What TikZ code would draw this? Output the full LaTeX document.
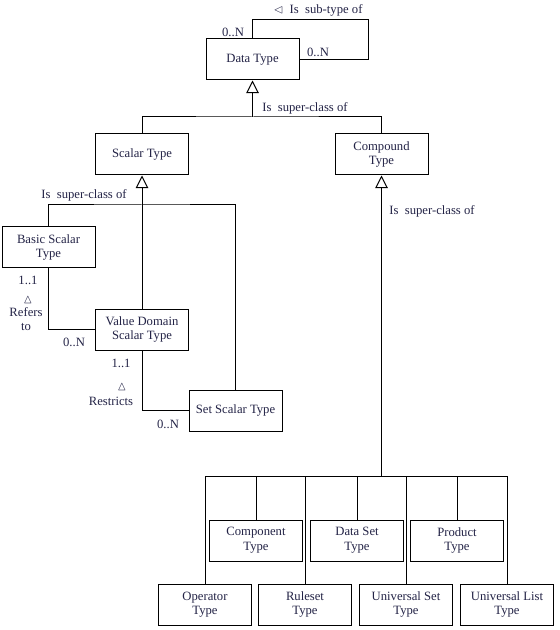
\documentclass[tikz,border=0pt]{standalone}
\usepackage{amssymb}
\usepackage{fontspec}
\setmainfont{Liberation Serif}
\usetikzlibrary{arrows.meta}

\definecolor{labelink}{RGB}{35,35,70}
\tikzset{every picture/.style={line width=0.75pt}}
\tikzset{
  typebox/.style={draw, fill=white, minimum width=69.75pt, minimum height=30.75pt, inner sep=1pt, align=center, font=\fontsize{9.5}{11}\selectfont, text=labelink},
  lbl/.style={font=\fontsize{9.5}{11}\selectfont, text=labelink, inner sep=0pt, align=center},
  isa/.style={-{Triangle[open, width=9.5pt, length=9.5pt]}}
}

\begin{document}
\begin{tikzpicture}[x=0.75pt,y=0.75pt,yscale=-1,xscale=1]
	\useasboundingbox (0,0) rectangle (559,630);
	
	%Shape: Rectangle [id:dataType]
	\node[typebox] (dt) at (252.5,59.5) {Data Type};
	%Shape: Rectangle [id:scalarType]
	\node[typebox] (st) at (142,154.5) {Scalar Type};
	%Shape: Rectangle [id:compoundType]
	\node[typebox] (ct) at (381.5,154.5) {Compound\\Type};
	%Shape: Rectangle [id:basicScalar]
	\node[typebox] (bsc) at (48.5,247.5) {Basic Scalar\\Type};
	%Shape: Rectangle [id:valueDomain]
	\node[typebox] (vd) at (142,329.5) {Value Domain\\Scalar Type};
	%Shape: Rectangle [id:setScalar]
	\node[typebox] (sst) at (235.5,410.5) {Set Scalar Type};
	%Shape: Rectangle [id:component]
	\node[typebox] (cmp) at (256,540.5) {Component\\Type};
	%Shape: Rectangle [id:dataSet]
	\node[typebox] (dst) at (357,540.5) {Data Set\\Type};
	%Shape: Rectangle [id:product]
	\node[typebox] (prd) at (457,540.5) {Product\\Type};
	%Shape: Rectangle [id:operator]
	\node[typebox] (opt) at (205,604.5) {Operator\\Type};
	%Shape: Rectangle [id:ruleset]
	\node[typebox] (rst) at (305,604.5) {Ruleset\\Type};
	%Shape: Rectangle [id:universalSet]
	\node[typebox] (ust) at (406,604.5) {Universal Set\\Type};
	%Shape: Rectangle [id:universalList]
	\node[typebox] (ult) at (507,604.5) {Universal List\\Type};
	
	\coordinate (loop) at (368,20);
	\coordinate (bus1) at (252.5,117);
	\coordinate (bus2) at (142,205);
	\coordinate (bus3) at (381.5,476);
	
	%Straight Lines [id:subtypeLoop]
	\draw (dt.north) |- (loop) |- (dt.east);
	
	%Straight Lines [id:dataTypeSuper]
	\draw[isa] (bus1) -- (dt.south);
	\draw (st.north) |- (bus1) -| (ct.north);
	
	%Straight Lines [id:scalarSuper]
	\draw[isa] (vd.north) -- (st.south);
	\draw (bsc.north) |- (bus2) -| (sst.north);
	
	%Straight Lines [id:refersTo]
	\draw (bsc.south) |- (vd.west);
	%Straight Lines [id:restricts]
	\draw (vd.south) |- (sst.west);
	
	%Straight Lines [id:compoundSuper]
	\draw[isa] (bus3) -- (ct.south);
	\foreach \n in {opt,cmp,rst,dst,ust,prd,ult}
		\draw (bus3) -| (\n.north);
	
	% Text Node
	\node[lbl] (subtype) at (318,10) {$\lhd$\ \ Is\ \ sub-type of};
	% Text Node
	\node[lbl] (mulA) at (233,32) {0..N};
	% Text Node
	\node[lbl] (mulB) at (318,52) {0..N};
	% Text Node
	\node[lbl] (superA) at (305,108) {Is\ \ super-class of};
	% Text Node
	\node[lbl] (superB) at (84,195) {Is\ \ super-class of};
	% Text Node
	\node[lbl] (superC) at (432,211) {Is\ \ super-class of};
	% Text Node
	\node[lbl] (mulC) at (28,280) {1..1};
	% Text Node
	\node[lbl] (triA) at (28,300) {$\vartriangle$};
	% Text Node
	\node[lbl] (refers) at (26,319) {Refers\\to};
	% Text Node
	\node[lbl] (mulD) at (74,342) {0..N};
	% Text Node
	\node[lbl] (mulE) at (121,363) {1..1};
	% Text Node
	\node[lbl] (triB) at (122,387) {$\vartriangle$};
	% Text Node
	\node[lbl] (restricts) at (111,401) {Restricts};
	% Text Node
	\node[lbl] (mulF) at (168,424) {0..N};
	
\end{tikzpicture}
\end{document}
